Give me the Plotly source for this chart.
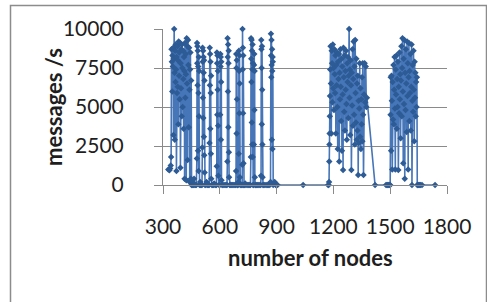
import plotly.graph_objects as go

# Cluster A (dense start)
nodes_a = [328,334,338,341,343,345,347,349,350,352, 354,355,357,359,361,362,364,366,367,369,
           371,372,374,376,378,379,381,383,385,386, 388,390,392,393,395,397,399,400,402,404,
           406,407,409,411,413,414,416,418,420,421, 423,425,427,429,430,432,434,436,438,440,
           441,443,445,447,449,451,453,455,458,461, 464,468]
rate_a = [1000,950,1050,1250,1800,8700,7900,6000,8300,7600, 8800,3200,8100,10000,7200,2900,8600,6600,9000,7400,
          900,8200,5900,8900,6300,8000,3900,9200,7000,8500, 5500,9100,1100,7800,6200,8700,4400,9000,7500,5000,
          8600,6800,3600,8200,7300,400,9100,5600,8400,7100, 300,9400,6500,8900,1600,9300,7700,3700,8800,6100,
          200,7400,8500,400,6700,0,0,200,0,0, 400,0]

nodes_b = [472,476,479,480,481,482,483,484,485,486,487,488,489,490,491,493,496,499,502]
rate_b = [0,0,1700,9100,7800,8900,6400,8600,2200,7600,5900,900,8200,4400,7300,0,200,0,0]

nodes_c = [506,508,509,510,511,512,513,514,515,516,517,518,519,520,522,526,530,535,540]
rate_c = [0,2400,8800,7900,5600,8600,4300,8200,7200,3100,8000,1900,6700,800,0,0,200,0,0]

nodes_d = [544,546,547,548,549,550,551,552,553,554,555,558,562,566,570,575,580]
rate_d = [0,2700,8800,6400,8400,3600,7900,5900,2000,7000,400,0,0,0,100,0,0]

nodes_e = [582,584,585,586,587,588,589,590,591,592,596,600,602,603,604,605,606,607,608,609,612,616,622,628,634]
rate_e = [0,1200,8500,7800,4500,8300,6100,7300,3800,600,0,0,4500,8400,7600,8200,2900,6600,7900,300,0,0,0,0,0]

nodes_f = [638,640,641,642,643,644,645,646,647,648,649,652,656,662,668,674,680]
rate_f = [0,1500,9400,8200,6000,9000,3700,7800,8600,2100,500,0,0,0,0,0,0]

nodes_g = [684,686,687,688,689,690,691,692,694,696,698,700,701,702,703,704,705,706,708,712,716]
rate_g = [0,900,8400,7500,3300,8000,5500,0,0,0,200,2000,8600,7300,4600,8300,6500,500,0,0,0]

nodes_h = [718,719,720,721,722,723,724,725,726,728,731,734,738]
rate_h = [0,1300,10000,7400,8800,4600,8300,1400,0,0,0,100,0]

nodes_i = [745,752,758,762,764,765,766,767,768,769,770,771,772,773,774,775,776,778,780,781,782,783,784,785,787,790,795,800]
rate_i = [0,0,0,0,1800,9400,8100,6600,9300,4000,8600,2600,7400,9000,1800,7800,0,0,2600,7700,8400,4800,7300,500,0,0,0,0]

nodes_j = [806,812,816,818,819,820,821,822,823,824,825,826,828,832,838,845,852,858]
rate_j = [0,0,0,600,9300,8700,7500,3900,8900,6100,2600,500,0,0,0,0,0,0]

nodes_k = [864,868,870,871,872,873,874,875,876,877,878,879,880,882,890,895,900,905]
rate_k = [0,200,9700,8300,6900,9300,7700,2900,8700,7300,2300,8200,7900,0,200,0,0,0]

nodes_gap = [1040]
rate_gap = [0]

nodes_m = [1172,1175,1177,1178,1179,1180,1181,1182,1183,1185,
           1187,1189,1191,1193,1195,1197,1199,1201,1203,1205,
           1207,1209,1211,1213,1215,1217,1219,1221,1223,1225,
           1227,1229,1231,1233,1235,1237,1239,1241,1243,1245,
           1247,1249,1251,1253,1255,1257,1259,1261,1263,1265,
           1267,1269,1271,1273,1275,1277,1279,1281,1283,1285,
           1287,1289,1291,1293,1295,1297,1299,1301,1303,1305,
           1307,1309,1311,1313,1315,1317,1319,1321,1323,1325,
           1327,1329,1331,1333,1335,1337,1339,1341,1343,1345,
           1347,1349,1351,1353,1355,1357,1359,1362,1365,1368,
           1371,1374,1377,1420]
rate_m = [0,0,200,1500,2600,3300,4400,5700,7400,8900,
          6500,3300,8600,7800,5300,9000,6200,7500,4800,8700,
          7100,5900,8300,3300,7700,6400,8500,5000,2300,7900,
          6800,8400,1500,7200,5500,8700,6300,4100,8100,2200,
          7600,5800,960,8800,6900,4700,8300,3500,7300,6100,
          8600,5200,2900,7800,6600,8200,4300,7000,10000,5600,
          7400,3200,8000,6400,960,7200,5100,8700,3800,6800,
          9200,4500,7600,2600,9300,5900,4000,8100,2900,6500,
          3500,7000,640,5400,2700,4900,7800,3100,6200,2300,
          5500,3900,6900,2800,7800,4500,640,5800,7800,5300,
          7600,5000,5600,0]

nodes_n = [1478,1483,1487,1492,1497,1500,1502,1503,1505,1507,
           1509,1511,1513,1515,1517,1519,1521,1523,1525,1527,
           1529,1531,1533,1535,1537,1539,1541,1543,1545,1547,
           1549,1551,1553,1555,1557,1559,1561,1563,1565,1567,
           1569,1571,1573,1575,1577,1579,1581,1583,1585,1587,
           1589,1591,1593,1595,1597,1599,1601,1603,1605,1607,
           1609,1611,1613,1615,1617,1619,1621,1623,1625,1627,
           1629,1631,1633,1635,1637,1639,1641,1643,1646,1650,
           1655,1660,1668,1737]
rate_n = [0,0,0,0,0,0,4500,6900,2200,7000,
          5400,1000,6600,4200,7700,3900,6100,8200,4900,1000,
          7400,5800,8300,3600,6800,5000,7900,960,6300,4600,
          8500,5500,7100,3000,6700,8900,4400,7500,9400,6000,
          1400,8100,5200,9300,400,7200,4800,8700,6500,3400,
          9200,5700,7800,1000,6900,9100,4100,7300,5900,8400,
          3500,6300,9000,0,5400,7700,4700,8600,6100,2800,
          7900,5600,7200,4400,6600,5000,6900,0,0,0,
          0,0,0,0]

x_ticks = [300, 600, 900, 1200, 1500, 1800]
y_ticks = [0, 2500, 5000, 7500, 10000]
x_title = "number of nodes"
y_title = "messages /s"

groups = [(nodes_a, rate_a), (nodes_b, rate_b), (nodes_c, rate_c), (nodes_d, rate_d),
          (nodes_e, rate_e), (nodes_f, rate_f), (nodes_g, rate_g), (nodes_h, rate_h),
          (nodes_i, rate_i), (nodes_j, rate_j), (nodes_k, rate_k), (nodes_gap, rate_gap),
          (nodes_m, rate_m), (nodes_n, rate_n)]
xs, ys = [], []
for nx, ny in groups:
    assert len(nx) == len(ny)
    xs += nx
    ys += ny

fig = go.Figure(go.Scatter(
    x=xs, y=ys, mode="lines+markers",
    line=dict(color="#4675B8", width=1.6),
    marker=dict(symbol="diamond", size=5, color="#2D5B95"),
    cliponaxis=False, showlegend=False,
))

font_family = "Lato, Carlito, Calibri, sans-serif"
L, R, T, B = 163, 40, 29, 117
W, H = 487, 302
pw, ph = W - L - R, H - T - B

def px_to_paper_x(px):
    return (px - L) / pw

def py_to_paper_y(py):
    return ((H - B) - py) / ph

fig.update_layout(
    width=W, height=H,
    margin=dict(l=L, r=R, t=T, b=B, pad=0, autoexpand=False),
    paper_bgcolor="white", plot_bgcolor="white",
    font=dict(family=font_family, size=21, color="#1e1e1e"),
    xaxis=dict(
        range=[300, 1800], tickvals=x_ticks, ticktext=[str(v) for v in x_ticks],
        showgrid=False, zeroline=False, showline=True, linecolor="#8a8a8a", linewidth=1,
        ticks="outside", ticklen=8, tickcolor="#8a8a8a", ticklabelstandoff=15,
        automargin=False,
    ),
    yaxis=dict(
        range=[0, 10000], tickvals=y_ticks, ticktext=[str(v) for v in y_ticks],
        showgrid=True, gridcolor="#8a8a8a", gridwidth=1, zeroline=False,
        showline=True, linecolor="#8a8a8a", linewidth=1,
        ticks="outside", ticklen=8, tickcolor="#8a8a8a", ticklabelstandoff=26,
        automargin=False,
    ),
    annotations=[
        dict(text="<b>" + x_title + "</b>", xref="paper", yref="paper",
             x=px_to_paper_x(310), y=py_to_paper_y(257), showarrow=False,
             xanchor="center", yanchor="middle", font=dict(size=22)),
        dict(text="<b>" + y_title + "</b>", xref="paper", yref="paper",
             x=px_to_paper_x(53), y=py_to_paper_y(107), showarrow=False, textangle=-90,
             xanchor="center", yanchor="middle", font=dict(size=22)),
    ],
    shapes=[dict(
        type="rect", xref="paper", yref="paper",
        x0=px_to_paper_x(10.5), x1=px_to_paper_x(486.5),
        y0=py_to_paper_y(330), y1=py_to_paper_y(5.5),
        line=dict(color="#8c8c8c", width=1.5), fillcolor="rgba(0,0,0,0)", layer="below",
    )],
)

fig.write_html(
    "out.html",
    config={"displayModeBar": False},
    post_script="document.body.style.margin='0';document.body.style.overflow='hidden';",
)
